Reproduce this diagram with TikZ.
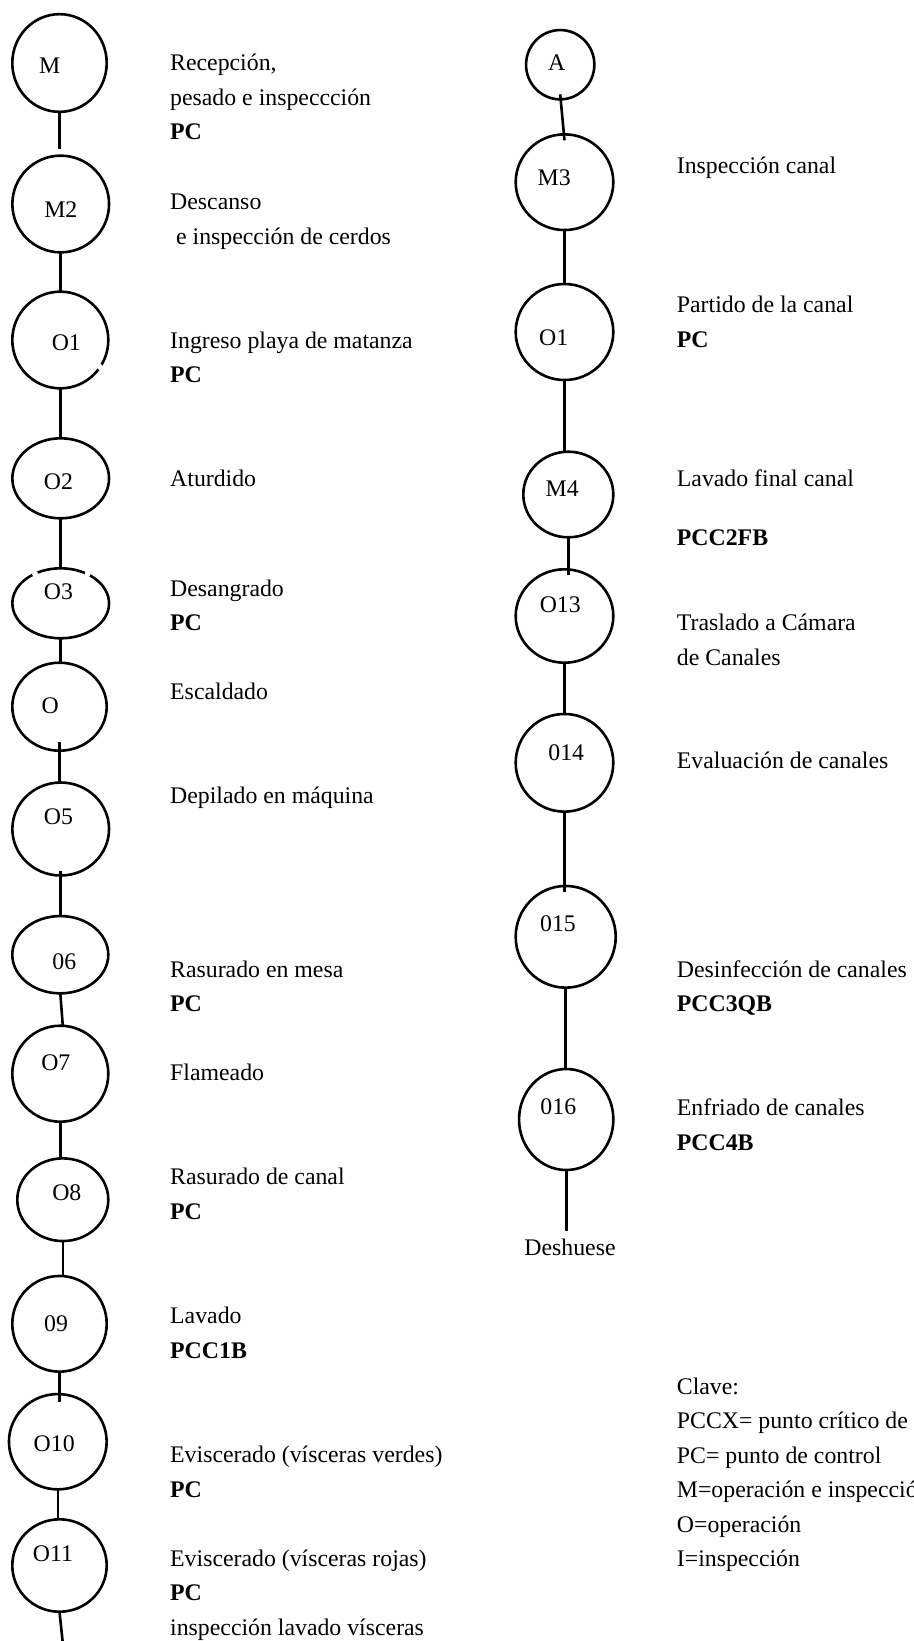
\documentclass[tikz,border=0pt]{standalone}
\usepackage{fontspec}
\setmainfont{Liberation Serif}
\usetikzlibrary{shapes.geometric}
\newcommand\fsz{\fontsize{23.8}{34.5}\selectfont}
\tikzset{
  stage/.style={ellipse, draw, line width=2.6pt, inner sep=0pt, outer sep=0pt},
  lbl/.style={inner sep=0pt, font=\fsz},
  desc/.style={anchor=base west, align=left, inner sep=0pt, font=\fsz},
  link/.style={line width=2.6pt},
}
\begin{document}
\begin{tikzpicture}[x=1pt,y=-1pt]
\clip (0,0) rectangle (913,1641);
\fill[white] (0,0) rectangle (913,1641);
% left column stages
\node[stage, minimum width=94.4pt, minimum height=97.7pt] (m)   at (59.5,63) {};
\node[stage, minimum width=96.7pt, minimum height=96.7pt] (m2)  at (60.7,204) {};
\node[stage, minimum width=96pt,   minimum height=96.7pt] (o1)  at (60.3,340) {};
\node[stage, minimum width=96.7pt, minimum height=80pt]   (o2)  at (60.7,478.3) {};
\node[stage, minimum width=96.7pt, minimum height=70pt]   (o3)  at (60.7,603.3) {};
\node[stage, minimum width=94.4pt, minimum height=88pt]   (o)   at (59.5,706.7) {};
\node[stage, minimum width=96.7pt, minimum height=93pt]   (o5)  at (60.7,829) {};
\node[stage, minimum width=96pt,   minimum height=77.3pt] (o6)  at (60.3,954.7) {};
\node[stage, minimum width=96pt,   minimum height=96pt]   (o7)  at (60.3,1073.7) {};
\node[stage, minimum width=91pt,   minimum height=82.7pt] (o8)  at (62.8,1199.7) {};
\node[stage, minimum width=94.4pt, minimum height=95.7pt] (o9)  at (59.5,1323.8) {};
\node[stage, minimum width=97.7pt, minimum height=95.3pt] (o10) at (57.8,1441.7) {};
\node[stage, minimum width=94.4pt, minimum height=92.4pt] (o11) at (59.5,1565.5) {};
% right column stages
\node[stage, minimum width=68.3pt, minimum height=69.3pt]  (a)   at (560.2,64.7) {};
\node[stage, minimum width=97.6pt, minimum height=95.7pt]  (m3)  at (564.5,182.2) {};
\node[stage, minimum width=97.6pt, minimum height=96pt]    (r1)  at (564.5,332) {};
\node[stage, minimum width=90pt,   minimum height=85.6pt]  (m4)  at (568.3,494.5) {};
\node[stage, minimum width=97.6pt, minimum height=93.4pt]  (o13) at (564.5,616) {};
\node[stage, minimum width=97.6pt, minimum height=97.7pt]  (o14) at (564.5,762.8) {};
\node[stage, minimum width=100pt,  minimum height=101.7pt] (o15) at (565.7,936.8) {};
\node[stage, minimum width=94.3pt, minimum height=101pt]   (o16) at (566.2,1119.5) {};
% small breaks in the outlines
\fill[white] (100,367) circle (3);
\fill[white] (35,573.7) circle (3);
\fill[white] (87.5,574.2) circle (3);
% stage labels
\node[lbl] (lm)   at (49.7,65.3) {M};
\node[lbl] (lm2)  at (60.8,209.7) {M2};
\node[lbl] (lo1)  at (66.3,343) {O1};
\node[lbl] (lo2)  at (58.5,481.3) {O2};
\node[lbl] (lo3)  at (58.5,591.3) {O3};
\node[lbl] (lo)   at (50.3,705.5) {O};
\node[lbl] (lo5)  at (58.5,817) {O5};
\node[lbl] (lo6)  at (64.3,961.2) {06};
\node[lbl] (lo7)  at (55.8,1063) {O7};
\node[lbl] (lo8)  at (66.8,1193) {O8};
\node[lbl] (lo9)  at (56,1323.8) {09};
\node[lbl] (lo10) at (54.2,1444) {O10};
\node[lbl] (lo11) at (53,1554) {O11};
\node[lbl] (la)   at (556.7,62.5) {A};
\node[lbl] (lm3)  at (554.2,177.5) {M3};
\node[lbl] (lr1)  at (553.7,337.5) {O1};
\node[lbl] (lm4)  at (562.2,488.5) {M4};
\node[lbl] (lo13) at (560.3,604.5) {O13};
\node[lbl] (lo14) at (566.2,752.2) {014};
\node[lbl] (lo15) at (558,924) {015};
\node[lbl] (lo16) at (558.3,1106.2) {016};
\node[lbl, anchor=base, inner ysep=7pt] (desh) at (570,1255) {Deshuese};
\coordinate (tail) at (63,1645);
% connectors
\draw[link] (m.south) -- ([yshift=7pt]m.south |- m2.north);
\draw[link] (m2.south) -- (m2.south |- o1.north);
\draw[link] (o1.south) -- (o1.south |- o2.north);
\draw[link] (o2.south) -- (o2.south |- o3.north);
\draw[link] (o3.south) -- (o3.south |- o.north);
\draw[link] ([yshift=9pt]o.south) -- (o.south |- o5.north);
\draw[link] ([yshift=5pt]o5.south) -- (o5.south |- o6.north);
\draw[link] (o6.south) -- ([xshift=2.5pt]o7.north);
\draw[link] (o7.south) -- (o7.south |- o8.north);
\draw[link] (o8.south) -- (o8.south |- o9.north);
\draw[link] (o9.south) -- ([yshift=-8pt]o9.south |- o10.north);
\draw[link] (o10.south) -- (o10.south |- o11.north);
\draw[link] (o11.south) -- (tail);
\draw[link] ([yshift=5pt]a.south) -- ([yshift=-6pt]m3.north);
\draw[link] (m3.south) -- (m3.south |- r1.north);
\draw[link] (r1.south) -- (r1.south |- m4.north);
\draw[link] (m4.south) -- ([yshift=-6pt]m4.south |- o13.north);
\draw[link] (o13.south) -- (o13.south |- o14.north);
\draw[link] (o14.south) -- ([yshift=-6pt]o14.south |- o15.north);
\draw[link] (o15.south) -- (o15.south |- o16.north);
\draw[link] (o16.south) -- (o16.south |- desh.north);
% descriptions, left (placed at the baseline of their last line)
\node[desc] (t1)  at (170,139.7)  {Recepción,\\pesado e inspeccción\\\textbf{PC}};
\node[desc] (t2)  at (170,244)    {Descanso\\\hspace*{0.25em}e inspección de cerdos};
\node[desc] (t3)  at (170,382.7)  {Ingreso playa de matanza\\\textbf{PC}};
\node[desc] (t4)  at (170,486.7)  {Aturdido};
\node[desc] (t5)  at (170,630.7)  {Desangrado\\\textbf{PC}};
\node[desc] (t6)  at (170,699.3)  {Escaldado};
\node[desc] (t7)  at (170,803.3)  {Depilado en máquina};
\node[desc] (t8)  at (170,1011.7) {Rasurado en mesa\\\textbf{PC}};
\node[desc] (t9)  at (170,1080.7) {Flameado};
\node[desc] (t10) at (170,1219.3) {Rasurado de canal\\\textbf{PC}};
\node[desc] (t11) at (170,1358.3) {Lavado\\\textbf{PCC1B}};
\node[desc] (t12) at (170,1497.3) {Eviscerado (vísceras verdes)\\\textbf{PC}};
\node[desc] (t13) at (170,1635)   {Eviscerado (vísceras rojas)\\\textbf{PC}\\inspección lavado vísceras};
% descriptions, right
\node[desc] (u1) at (676.7,173.3)  {Inspección canal};
\node[desc] (u2) at (676.7,347.3)  {Partido de la canal\\\textbf{PC}};
\node[desc] (u3) at (676.7,545)    {Lavado final canal\\[23.8pt]\textbf{PCC2FB}};
\node[desc] (u4) at (676.7,665)    {Traslado a Cámara\\de Canales};
\node[desc] (u5) at (676.7,768.3)  {Evaluación de canales};
\node[desc] (u6) at (676.7,1011.7) {Desinfección de canales\\\textbf{PCC3QB}};
\node[desc] (u7) at (676.7,1150)   {Enfriado de canales\\\textbf{PCC4B}};
\node[desc] (key) at (676.7,1566.7) {Clave:\\PCCX= punto crítico de control\\PC= punto de control\\M=operación e inspección\\O=operación\\I=inspección};
\end{tikzpicture}
\end{document}
